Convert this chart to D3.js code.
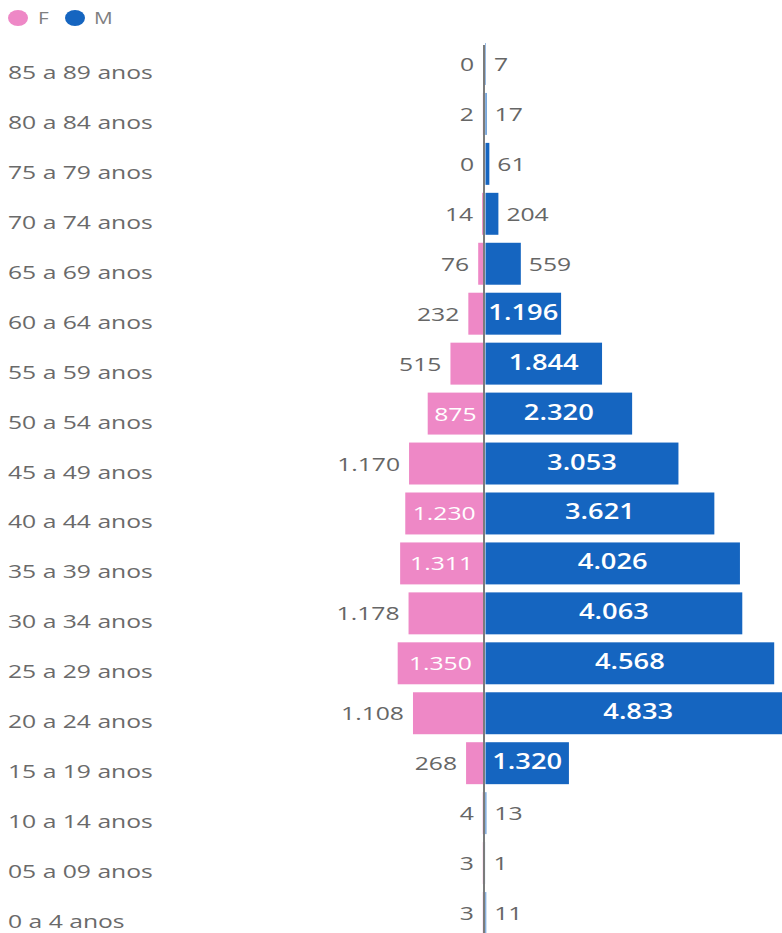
<!DOCTYPE html>
<html>
<head>
<meta charset="utf-8">
<script src="https://cdn.jsdelivr.net/npm/d3@7"></script>
<style>
  html, body { margin: 0; padding: 0; background: #fff; }
  svg { display: block; font-family: "Open Sans", "Noto Sans", sans-serif; }
</style>
</head>
<body>
<svg id="chart" width="782" height="933"></svg>
<script>
// ---- data (top to bottom) ----
const ageGroups = ["85 a 89 anos","80 a 84 anos","75 a 79 anos","70 a 74 anos","65 a 69 anos",
  "60 a 64 anos","55 a 59 anos","50 a 54 anos","45 a 49 anos","40 a 44 anos","35 a 39 anos",
  "30 a 34 anos","25 a 29 anos","20 a 24 anos","15 a 19 anos","10 a 14 anos","05 a 09 anos","0 a 4 anos"];
const femaleValues = [0,2,0,14,76,232,515,875,1170,1230,1311,1178,1350,1108,268,4,3,3];
const maleValues   = [7,17,61,204,559,1196,1844,2320,3053,3621,4026,4063,4568,4833,1320,13,1,11];
const femaleLabelInside = ["50 a 54 anos","40 a 44 anos","35 a 39 anos","25 a 29 anos"];
const seriesNames = ["F","M"];
const seriesColors = ["#EE88C6","#1565C0"];

// ---- layout ----
const svg = d3.select("#chart");
const W = 782, H = 933;
const cx = 484;          // centre axis
const SX = 1.3;          // horizontal text stretch of the original
const fmt = v => d3.format(",")(v).replace(/,/g, ".");

const y = d3.scaleBand().domain(ageGroups).range([39, 938]).paddingInner(0.16).paddingOuter(0.08);
const x = d3.scaleLinear().domain([0, 5000]).range([0, 316]);

function stretchedText(g, tx, ty, str, opts) {
  return g.append("text")
    .attr("transform", `translate(${tx},${ty}) scale(${SX},1)`)
    .attr("text-anchor", opts.anchor || "start")
    .attr("font-size", opts.size)
    .attr("font-weight", opts.weight || 400)
    .attr("fill", opts.fill)
    .text(str);
}

// legend
const leg = svg.append("g");
leg.append("ellipse").attr("cx", 18).attr("cy", 18).attr("rx", 10).attr("ry", 8).attr("fill", seriesColors[0]);
stretchedText(leg, 38, 24, seriesNames[0], {size: 16, fill: "#808080"});
leg.append("ellipse").attr("cx", 75).attr("cy", 18).attr("rx", 10).attr("ry", 8).attr("fill", seriesColors[1]);
stretchedText(leg, 94, 24, seriesNames[1], {size: 16, fill: "#808080"});

// category labels
const cat = svg.append("g");
ageGroups.forEach(a => {
  stretchedText(cat, 8, y(a) + y.bandwidth()/2 + 15, a, {size: 19, fill: "#6a6a6a"});
});

// bars
const bars = svg.append("g");
bars.selectAll("rect.f").data(ageGroups).join("rect")
  .attr("class", "f")
  .attr("x", (a,i) => cx - 1 - x(femaleValues[i]))
  .attr("y", a => y(a))
  .attr("width", (a,i) => x(femaleValues[i]))
  .attr("height", y.bandwidth())
  .attr("fill", seriesColors[0]);
bars.selectAll("rect.m").data(ageGroups).join("rect")
  .attr("class", "m")
  .attr("x", cx + 1.5)
  .attr("y", a => y(a))
  .attr("width", (a,i) => x(maleValues[i]))
  .attr("height", y.bandwidth())
  .attr("fill", seriesColors[1]);

// axis line
svg.append("line").attr("x1", cx).attr("x2", cx).attr("y1", 45).attr("y2", H)
  .attr("stroke", "#5a5a5a").attr("stroke-width", 1.6);

// value labels
const lab = svg.append("g");
ageGroups.forEach((a, i) => {
  const yc = y(a) + y.bandwidth()/2;
  // female
  const fv = femaleValues[i], fw = x(fv);
  if (femaleLabelInside.includes(a)) {
    stretchedText(lab, cx - 1 - fw/2, yc + 7, fmt(fv), {size: 19, fill: "#fff", anchor: "middle"});
  } else {
    stretchedText(lab, cx - 1 - fw - 9, yc + 7, fmt(fv), {size: 19, fill: "#666", anchor: "end"});
  }
  // male
  const mv = maleValues[i], mw = x(mv);
  const str = fmt(mv);
  const t = stretchedText(lab, cx + 1.5 + mw/2, yc + 6, str, {size: 21, weight: 600, fill: "#fff", anchor: "middle"});
  const tw = t.node().getComputedTextLength() * SX;
  if (tw + 2 > mw) {
    t.remove();
    stretchedText(lab, cx + 1.5 + mw + 8, yc + 7, str, {size: 19, fill: "#666"});
  }
});
</script>
</body>
</html>
